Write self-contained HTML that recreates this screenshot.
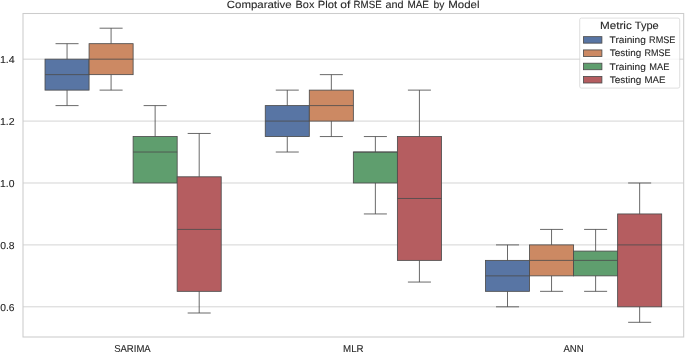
<!DOCTYPE html>
<html>
<head>
<meta charset="utf-8">
<title>Comparative Box Plot of RMSE and MAE by Model</title>
<style>
html,body{margin:0;padding:0;background:#ffffff;}
body{width:685px;height:352px;overflow:hidden;}
svg{display:block;will-change:transform;}
text{font-family:"Liberation Sans",sans-serif;fill:#262626;stroke:#262626;stroke-width:0.1px;text-rendering:geometricPrecision;}
</style>
</head>
<body>
<svg width="685" height="352" viewBox="0 0 685 352">
<rect x="0" y="0" width="685" height="352" fill="#ffffff"/>
<g stroke="#cccccc" stroke-width="0.84" fill="none">
<line x1="23.00" y1="306.82" x2="683.70" y2="306.82"/>
<line x1="23.00" y1="244.90" x2="683.70" y2="244.90"/>
<line x1="23.00" y1="182.99" x2="683.70" y2="182.99"/>
<line x1="23.00" y1="121.08" x2="683.70" y2="121.08"/>
<line x1="23.00" y1="59.16" x2="683.70" y2="59.16"/>
</g>
<g stroke="#4c4c4c" stroke-width="0.84" fill="none" stroke-linecap="square">
<rect x="45.02" y="59.16" width="44.05" height="30.96" fill="#5875a4"/>
<line x1="45.02" y1="74.64" x2="89.07" y2="74.64" stroke-linecap="butt"/>
<line x1="67.05" y1="90.12" x2="67.05" y2="105.60" stroke-linecap="butt"/>
<line x1="56.04" y1="105.60" x2="78.06" y2="105.60"/>
<line x1="67.05" y1="59.16" x2="67.05" y2="43.68" stroke-linecap="butt"/>
<line x1="56.04" y1="43.68" x2="78.06" y2="43.68"/>
</g>
<g stroke="#4c4c4c" stroke-width="0.84" fill="none" stroke-linecap="square">
<rect x="89.07" y="43.68" width="44.05" height="30.96" fill="#cc8963"/>
<line x1="89.07" y1="59.16" x2="133.12" y2="59.16" stroke-linecap="butt"/>
<line x1="111.09" y1="74.64" x2="111.09" y2="90.12" stroke-linecap="butt"/>
<line x1="100.08" y1="90.12" x2="122.11" y2="90.12"/>
<line x1="111.09" y1="43.68" x2="111.09" y2="28.20" stroke-linecap="butt"/>
<line x1="100.08" y1="28.20" x2="122.11" y2="28.20"/>
</g>
<g stroke="#4c4c4c" stroke-width="0.84" fill="none" stroke-linecap="square">
<rect x="133.12" y="136.55" width="44.05" height="46.44" fill="#5f9e6e"/>
<line x1="133.12" y1="152.03" x2="177.16" y2="152.03" stroke-linecap="butt"/>
<line x1="155.14" y1="136.55" x2="155.14" y2="105.60" stroke-linecap="butt"/>
<line x1="144.13" y1="105.60" x2="166.15" y2="105.60"/>
</g>
<g stroke="#4c4c4c" stroke-width="0.84" fill="none" stroke-linecap="square">
<rect x="177.16" y="176.80" width="44.05" height="114.54" fill="#b55d60"/>
<line x1="177.16" y1="229.42" x2="221.21" y2="229.42" stroke-linecap="butt"/>
<line x1="199.19" y1="291.34" x2="199.19" y2="313.01" stroke-linecap="butt"/>
<line x1="188.18" y1="313.01" x2="210.20" y2="313.01"/>
<line x1="199.19" y1="176.80" x2="199.19" y2="133.46" stroke-linecap="butt"/>
<line x1="188.18" y1="133.46" x2="210.20" y2="133.46"/>
</g>
<g stroke="#4c4c4c" stroke-width="0.84" fill="none" stroke-linecap="square">
<rect x="265.26" y="105.60" width="44.05" height="30.96" fill="#5875a4"/>
<line x1="265.26" y1="121.08" x2="309.30" y2="121.08" stroke-linecap="butt"/>
<line x1="287.28" y1="136.55" x2="287.28" y2="152.03" stroke-linecap="butt"/>
<line x1="276.27" y1="152.03" x2="298.29" y2="152.03"/>
<line x1="287.28" y1="105.60" x2="287.28" y2="90.12" stroke-linecap="butt"/>
<line x1="276.27" y1="90.12" x2="298.29" y2="90.12"/>
</g>
<g stroke="#4c4c4c" stroke-width="0.84" fill="none" stroke-linecap="square">
<rect x="309.30" y="90.12" width="44.05" height="30.96" fill="#cc8963"/>
<line x1="309.30" y1="105.60" x2="353.35" y2="105.60" stroke-linecap="butt"/>
<line x1="331.33" y1="121.08" x2="331.33" y2="136.55" stroke-linecap="butt"/>
<line x1="320.32" y1="136.55" x2="342.34" y2="136.55"/>
<line x1="331.33" y1="90.12" x2="331.33" y2="74.64" stroke-linecap="butt"/>
<line x1="320.32" y1="74.64" x2="342.34" y2="74.64"/>
</g>
<g stroke="#4c4c4c" stroke-width="0.84" fill="none" stroke-linecap="square">
<rect x="353.35" y="152.03" width="44.05" height="30.96" fill="#5f9e6e"/>
<line x1="353.35" y1="152.03" x2="397.40" y2="152.03" stroke-linecap="butt"/>
<line x1="375.37" y1="182.99" x2="375.37" y2="213.95" stroke-linecap="butt"/>
<line x1="364.36" y1="213.95" x2="386.39" y2="213.95"/>
<line x1="375.37" y1="152.03" x2="375.37" y2="136.55" stroke-linecap="butt"/>
<line x1="364.36" y1="136.55" x2="386.39" y2="136.55"/>
</g>
<g stroke="#4c4c4c" stroke-width="0.84" fill="none" stroke-linecap="square">
<rect x="397.40" y="136.55" width="44.05" height="123.83" fill="#b55d60"/>
<line x1="397.40" y1="198.47" x2="441.44" y2="198.47" stroke-linecap="butt"/>
<line x1="419.42" y1="260.38" x2="419.42" y2="282.05" stroke-linecap="butt"/>
<line x1="408.41" y1="282.05" x2="430.43" y2="282.05"/>
<line x1="419.42" y1="136.55" x2="419.42" y2="90.12" stroke-linecap="butt"/>
<line x1="408.41" y1="90.12" x2="430.43" y2="90.12"/>
</g>
<g stroke="#4c4c4c" stroke-width="0.84" fill="none" stroke-linecap="square">
<rect x="485.49" y="260.38" width="44.05" height="30.96" fill="#5875a4"/>
<line x1="485.49" y1="275.86" x2="529.54" y2="275.86" stroke-linecap="butt"/>
<line x1="507.51" y1="291.34" x2="507.51" y2="306.82" stroke-linecap="butt"/>
<line x1="496.50" y1="306.82" x2="518.53" y2="306.82"/>
<line x1="507.51" y1="260.38" x2="507.51" y2="244.90" stroke-linecap="butt"/>
<line x1="496.50" y1="244.90" x2="518.53" y2="244.90"/>
</g>
<g stroke="#4c4c4c" stroke-width="0.84" fill="none" stroke-linecap="square">
<rect x="529.54" y="244.90" width="44.05" height="30.96" fill="#cc8963"/>
<line x1="529.54" y1="260.38" x2="573.58" y2="260.38" stroke-linecap="butt"/>
<line x1="551.56" y1="275.86" x2="551.56" y2="291.34" stroke-linecap="butt"/>
<line x1="540.55" y1="291.34" x2="562.57" y2="291.34"/>
<line x1="551.56" y1="244.90" x2="551.56" y2="229.42" stroke-linecap="butt"/>
<line x1="540.55" y1="229.42" x2="562.57" y2="229.42"/>
</g>
<g stroke="#4c4c4c" stroke-width="0.84" fill="none" stroke-linecap="square">
<rect x="573.58" y="251.09" width="44.05" height="24.77" fill="#5f9e6e"/>
<line x1="573.58" y1="260.38" x2="617.63" y2="260.38" stroke-linecap="butt"/>
<line x1="595.61" y1="275.86" x2="595.61" y2="291.34" stroke-linecap="butt"/>
<line x1="584.60" y1="291.34" x2="606.62" y2="291.34"/>
<line x1="595.61" y1="251.09" x2="595.61" y2="229.42" stroke-linecap="butt"/>
<line x1="584.60" y1="229.42" x2="606.62" y2="229.42"/>
</g>
<g stroke="#4c4c4c" stroke-width="0.84" fill="none" stroke-linecap="square">
<rect x="617.63" y="213.95" width="44.05" height="92.87" fill="#b55d60"/>
<line x1="617.63" y1="244.90" x2="661.68" y2="244.90" stroke-linecap="butt"/>
<line x1="639.65" y1="306.82" x2="639.65" y2="322.30" stroke-linecap="butt"/>
<line x1="628.64" y1="322.30" x2="650.67" y2="322.30"/>
<line x1="639.65" y1="213.95" x2="639.65" y2="182.99" stroke-linecap="butt"/>
<line x1="628.64" y1="182.99" x2="650.67" y2="182.99"/>
</g>
<rect x="23.00" y="13.50" width="660.70" height="323.50" fill="none" stroke="#cccccc" stroke-width="1.05"/>
<rect x="579.70" y="18.10" width="100.00" height="70.00" rx="1.7" ry="1.7" fill="#ffffff" fill-opacity="0.8" stroke="#cccccc" stroke-opacity="0.8" stroke-width="0.8"/>
<rect x="583.5" y="36.65" width="18.4" height="6.5" fill="#5875a4" stroke="#4c4c4c" stroke-width="0.84"/>
<rect x="583.5" y="49.93" width="18.4" height="6.5" fill="#cc8963" stroke="#4c4c4c" stroke-width="0.84"/>
<rect x="583.5" y="63.21" width="18.4" height="6.5" fill="#5f9e6e" stroke="#4c4c4c" stroke-width="0.84"/>
<rect x="583.5" y="76.49" width="18.4" height="6.5" fill="#b55d60" stroke="#4c4c4c" stroke-width="0.84"/>
<text x="226.78" y="8.00" font-size="10.4" textLength="64.89" lengthAdjust="spacingAndGlyphs">Comparative</text>
<text x="295.60" y="8.00" font-size="10.4" textLength="18.75" lengthAdjust="spacingAndGlyphs">Box</text>
<text x="317.74" y="8.00" font-size="10.4" textLength="19.29" lengthAdjust="spacingAndGlyphs">Plot</text>
<text x="340.21" y="8.00" font-size="10.4" textLength="10.06" lengthAdjust="spacingAndGlyphs">of</text>
<text x="353.61" y="8.00" font-size="10.4" textLength="28.04" lengthAdjust="spacingAndGlyphs">RMSE</text>
<text x="385.43" y="8.00" font-size="10.4" textLength="18.04" lengthAdjust="spacingAndGlyphs">and</text>
<text x="407.41" y="8.00" font-size="10.4" textLength="21.62" lengthAdjust="spacingAndGlyphs">MAE</text>
<text x="433.50" y="8.00" font-size="10.4" textLength="10.92" lengthAdjust="spacingAndGlyphs">by</text>
<text x="448.21" y="8.00" font-size="10.4" textLength="31.25" lengthAdjust="spacingAndGlyphs">Model</text>
<text x="0.22" y="310.52" font-size="10.1" textLength="14.31" lengthAdjust="spacingAndGlyphs">0.6</text>
<text x="0.18" y="248.60" font-size="10.1" textLength="14.45" lengthAdjust="spacingAndGlyphs">0.8</text>
<text x="0.11" y="186.69" font-size="10.1" textLength="14.42" lengthAdjust="spacingAndGlyphs">1.0</text>
<text x="-0.06" y="124.78" font-size="10.1" textLength="14.73" lengthAdjust="spacingAndGlyphs">1.2</text>
<text x="-0.11" y="62.86" font-size="10.1" textLength="14.85" lengthAdjust="spacingAndGlyphs">1.4</text>
<text x="114.14" y="351.50" font-size="10.0" textLength="36.59" lengthAdjust="spacingAndGlyphs">SARIMA</text>
<text x="343.12" y="351.50" font-size="10.0" textLength="20.52" lengthAdjust="spacingAndGlyphs">MLR</text>
<text x="563.46" y="351.50" font-size="10.0" textLength="20.28" lengthAdjust="spacingAndGlyphs">ANN</text>
<text x="599.99" y="29.35" font-size="10.6" textLength="31.77" lengthAdjust="spacingAndGlyphs">Metric</text>
<text x="634.78" y="29.35" font-size="10.6" textLength="23.89" lengthAdjust="spacingAndGlyphs">Type</text>
<text x="609.61" y="43.20" font-size="9.6" textLength="36.21" lengthAdjust="spacingAndGlyphs">Training</text>
<text x="649.08" y="43.20" font-size="9.6" textLength="26.34" lengthAdjust="spacingAndGlyphs">RMSE</text>
<text x="609.78" y="56.48" font-size="9.6" textLength="31.50" lengthAdjust="spacingAndGlyphs">Testing</text>
<text x="644.54" y="56.48" font-size="9.6" textLength="26.01" lengthAdjust="spacingAndGlyphs">RMSE</text>
<text x="609.61" y="69.76" font-size="9.6" textLength="36.21" lengthAdjust="spacingAndGlyphs">Training</text>
<text x="649.34" y="69.76" font-size="9.6" textLength="20.13" lengthAdjust="spacingAndGlyphs">MAE</text>
<text x="609.78" y="83.04" font-size="9.6" textLength="31.50" lengthAdjust="spacingAndGlyphs">Testing</text>
<text x="644.55" y="83.04" font-size="9.6" textLength="21.02" lengthAdjust="spacingAndGlyphs">MAE</text>
</svg>
</body>
</html>
